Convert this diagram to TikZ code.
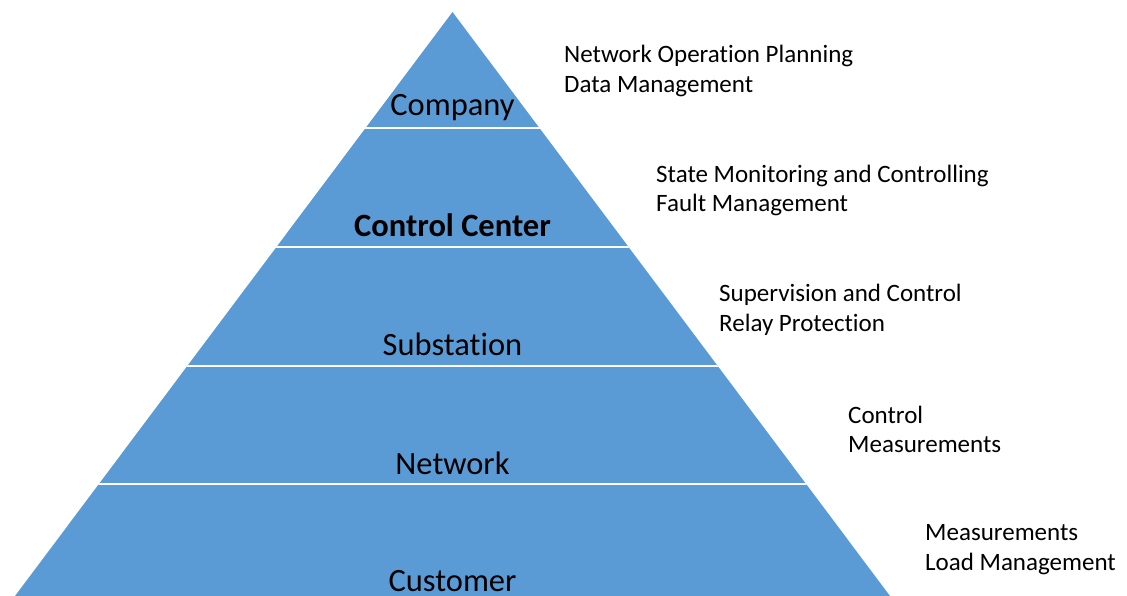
\documentclass[tikz,border=0pt]{standalone}
\usepackage{fontspec}
\setmainfont{Carlito}[Ligatures=NoCommon]
\usepackage{tikz}
\definecolor{pyrblue}{HTML}{5B9BD5}

\begin{document}
\begin{tikzpicture}[x=1pt,y=1pt,
    level/.style={font=\fontsize{32.5}{38}\selectfont},
    task/.style={anchor=west,align=left,inner sep=0pt,font=\fontsize{25}{29.8}\selectfont}]
  \useasboundingbox (0,0) rectangle (1127,596);
  \coordinate (apex) at (452.5,584);
  \coordinate (baseR) at (890,0);
  \coordinate (baseL) at (15,0);

  \fill[color=pyrblue] (apex) -- (baseR) -- (baseL) -- cycle;
  \begin{scope}
    \clip (apex) -- (baseR) -- (baseL) -- cycle;
    \draw[color=white,line width=2pt] (0,468) -- (1127,468);
    \draw[color=white,line width=2pt] (0,349) -- (1127,349);
    \draw[color=white,line width=2pt] (0,230) -- (1127,230);
    \draw[color=white,line width=2pt] (0,112) -- (1127,112);
  \end{scope}

  \node[level] (company) at (452.5,488) {Company};
  \node[level] (control) at (452.5,371) {\bfseries Control Center};
  \node[level] (substation) at (452.5,252) {Substation};
  \node[level] (network) at (452.5,133) {Network};
  \node[level] (customer) at (452.5,15) {Customer};

  \node[task] (companytasks) at (564,525) {Network Operation Planning\\Data Management};
  \node[task] (controltasks) at (656,405.5) {State Monitoring and Controlling\\Fault Management};
  \node[task] (substationtasks) at (719,286) {Supervision and Control\\Relay Protection};
  \node[task] (networktasks) at (848,166.5) {Control\\Measurements};
  \node[task] (customertasks) at (925,46.5) {Measurements\\Load Management};
\end{tikzpicture}
\end{document}
